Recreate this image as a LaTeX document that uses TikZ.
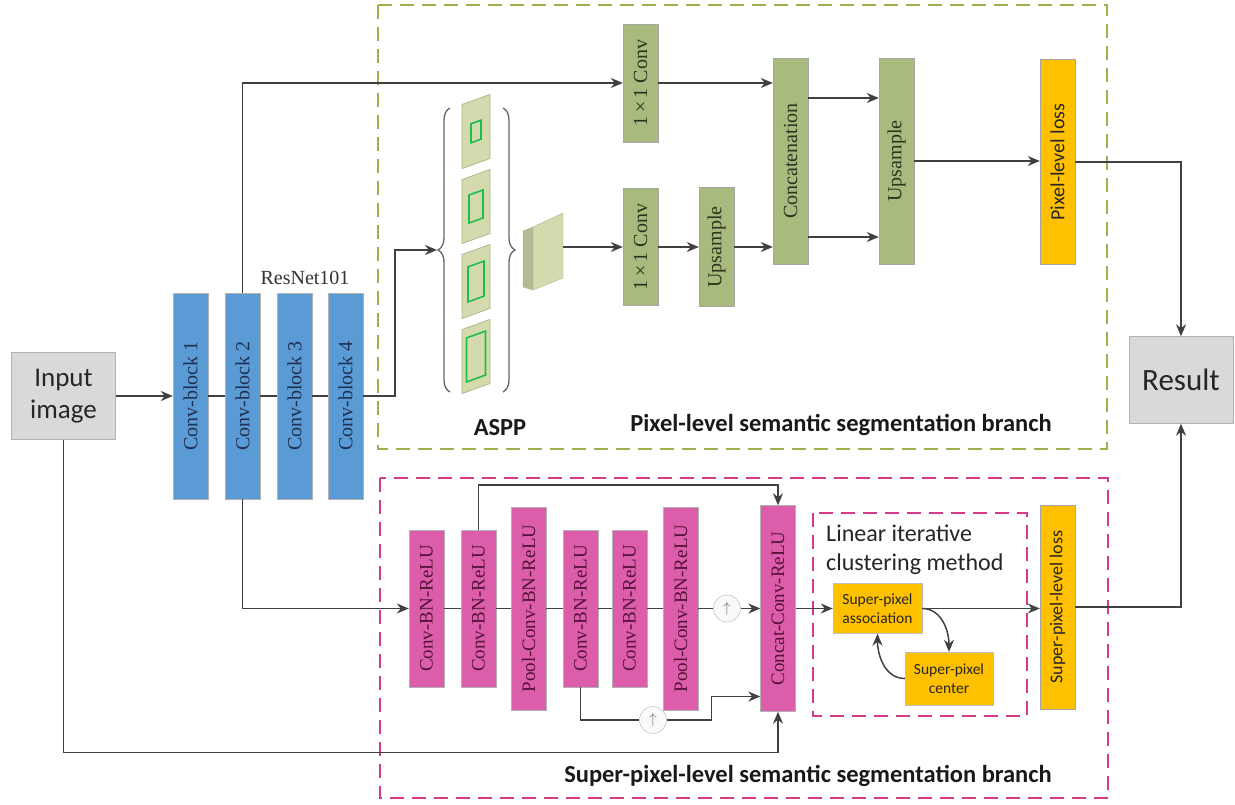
\documentclass[tikz,border=0pt]{standalone}
\usepackage{fontspec}
\setmainfont{Liberation Serif}
\newfontfamily\calib{Carlito}
\usetikzlibrary{arrows.meta,positioning,decorations.pathreplacing,calc}
\definecolor{blockblue}{HTML}{5B9BD5}
\definecolor{bluetext}{HTML}{1F3050}
\definecolor{aspgreen}{HTML}{A9BA7E}
\definecolor{greentext}{HTML}{2B341C}
\definecolor{spink}{HTML}{DC5DAA}
\definecolor{pinktext}{HTML}{561238}
\definecolor{lossorange}{HTML}{FFC000}
\definecolor{iogray}{HTML}{D9D9D9}
\definecolor{linegray}{HTML}{404040}
\definecolor{panelgreen}{HTML}{D5DAAE}
\definecolor{paneldraw}{HTML}{B2B78C}
\definecolor{ringgreen}{HTML}{1DBF4A}
\definecolor{olivedash}{HTML}{A0B04E}
\definecolor{pinkdash}{HTML}{D43B88}
\newcommand{\vt}[1]{\rotatebox{90}{#1}}

\begin{document}
\begin{tikzpicture}[x=1pt, y=-1pt,
    every node/.style={inner sep=0pt},
    convblk/.style={rectangle, draw=gray!60, fill=blockblue, minimum width=35pt, minimum height=206pt, text=bluetext, font=\fontsize{20}{20}\selectfont},
    aspblk/.style={rectangle, draw=gray!70, fill=aspgreen, minimum width=35pt, text=greentext, font=\fontsize{20}{20}\selectfont},
    spblk/.style={rectangle, draw=gray!60, fill=spink, minimum width=35pt, text=pinktext, font=\fontsize{19}{19}\selectfont},
    lossblk/.style={rectangle, draw=gray!70, fill=lossorange, minimum width=35pt, text=black!85, font=\calib\fontsize{20}{20}\selectfont},
    spbox/.style={rectangle, draw=gray!50, fill=lossorange, align=center, text=black!85, font=\calib\fontsize{15.5}{19}\selectfont},
    iobox/.style={rectangle, draw=gray!60, fill=iogray, minimum width=104pt, minimum height=87pt, align=center, text=black!85, font=\calib\fontsize{27}{32}\selectfont},
    upcirc/.style={circle, draw=gray!60, fill=gray!5, minimum size=27pt, text=gray!80!black, font=\fontsize{15}{15}\selectfont},
    arrow/.style={-{Stealth[length=12pt,width=10pt]}, line width=1.5pt, draw=linegray},
    link/.style={line width=1.5pt, draw=linegray},
    branchbox/.style={line width=2pt, dash pattern=on 14pt off 8pt},
    title/.style={text=black!90, font=\calib\bfseries\fontsize{24.5}{24.5}\selectfont}
]
\useasboundingbox (0,0) rectangle (1235,805);
\fill[white] (0,0) rectangle (1235,805);

% backbone
\node[iobox] (input) at (63.5,396) {Input\\image};
\node[convblk] (cb1) at (190.5,396) {\vt{Conv-block 1}};
\node[convblk] (cb2) at (242.5,396) {\vt{Conv-block 2}};
\node[convblk] (cb3) at (294.5,396) {\vt{Conv-block 3}};
\node[convblk] (cb4) at (345.5,396) {\vt{Conv-block 4}};
\node[text=black!80, font=\fontsize{20}{20}\selectfont] (resnet) at (305,278) {ResNet101};

% pixel-level branch
\draw[branchbox, draw=olivedash] (378,5) rectangle (1107,449);
\foreach \k/\w/\h in {0/10/19,1/14/28,2/16/35,3/19/44}{
  \begin{scope}[shift={(476,131.5+75*\k)}, yslant=0.36]
    \draw[fill=panelgreen, draw=paneldraw, line width=0.8pt] (-14,-32) rectangle (14,32);
    \draw[draw=ringgreen, line width=1.6pt] (-\w/2,-\h/2) rectangle (\w/2,\h/2);
  \end{scope}
}
\draw[decorate, decoration={brace, amplitude=12pt}, line width=1.3pt, draw=gray!80!black] (450,392) -- (450,108);
\draw[decorate, decoration={brace, amplitude=12pt}, line width=1.3pt, draw=gray!80!black] (503,108) -- (503,392);
\draw[fill=panelgreen!85!black, draw=paneldraw] (523,231) -- (533,227) -- (533,290) -- (523,287) -- cycle;
\draw[fill=panelgreen, draw=paneldraw] (533,227) -- (563,213) -- (563,278) -- (533,290) -- cycle;
\coordinate (asppin) at (437,250);
\coordinate (asppout) at (563,247);

\node[aspblk, minimum height=118pt] (conva) at (640.5,83) {\vt{1\,×\,1 Conv}};
\node[aspblk, minimum height=117pt] (convb) at (640.5,247) {\vt{1\,×\,1 Conv}};
\node[aspblk, minimum height=119pt] (upsa) at (716.5,247) {\vt{Upsample}};
\node[aspblk, minimum height=206pt] (concat) at (790.5,161) {\vt{Concatenation}};
\node[aspblk, minimum height=206pt] (upsb) at (896.5,161) {\vt{Upsample}};
\node[lossblk, minimum height=205pt] (ploss) at (1057.5,162) {\vt{Pixel-level loss}};
\node[iobox, font=\calib\fontsize{31}{32}\selectfont] (result) at (1181,380) {Result};
\node[title] (aspplbl) at (500,428) {ASPP};
\node[title] (pixlbl) at (841,425) {Pixel-level semantic segmentation branch};

% super-pixel branch
\draw[branchbox, draw=pinkdash] (380,478) rectangle (1108,798);
\node[spblk, minimum height=157pt] (cbr1) at (426.5,608.5) {\vt{Conv-BN-ReLU}};
\node[spblk, minimum height=157pt] (cbr2) at (478.5,608.5) {\vt{Conv-BN-ReLU}};
\node[spblk, minimum height=203pt] (pcbr1) at (528.5,608.5) {\vt{Pool-Conv-BN-ReLU}};
\node[spblk, minimum height=157pt] (cbr3) at (580.5,608.5) {\vt{Conv-BN-ReLU}};
\node[spblk, minimum height=157pt] (cbr4) at (629.5,608.5) {\vt{Conv-BN-ReLU}};
\node[spblk, minimum height=203pt] (pcbr2) at (680.5,608.5) {\vt{Pool-Conv-BN-ReLU}};
\node[spblk, minimum height=206pt] (ccr) at (778,608.5) {\vt{Concat-Conv-ReLU}};
\node[upcirc] (up1) at (727,608.5) {$\uparrow$};
\node[upcirc] (up2) at (653,720) {$\uparrow$};
\draw[branchbox, line width=1.8pt, draw=pinkdash] (813,513) rectangle (1027,716);
\node[anchor=north west, align=left, text=black!85, font=\calib\fontsize{24}{29}\selectfont] (slic) at (826,525) {Linear iterative\\clustering method};
\node[spbox, minimum width=89pt, minimum height=50pt] (assoc) at (877.5,608.5) {Super-pixel\\association};
\node[spbox, minimum width=88pt, minimum height=53pt] (spcenter) at (949,678.5) {Super-pixel\\center};
\node[lossblk, minimum height=204pt, font=\calib\fontsize{18}{18}\selectfont] (sploss) at (1057.5,607) {\vt{Super-pixel-level loss}};
\node[title] (splbl) at (808,776) {Super-pixel-level semantic segmentation branch};

% connections
\draw[arrow] (input.east) -- (cb1.west);
\draw[link] (cb1.east) -- (cb2.west) (cb2.east) -- (cb3.west) (cb3.east) -- (cb4.west);
\draw[arrow] (cb4.east) -- ++(32,0) |- (asppin);
\draw[arrow] (cb2.north) |- (conva.west);
\draw[arrow] (asppout) -- (convb.west);
\draw[arrow] (convb.east) -- (upsa.west);
\draw[arrow] (upsa.east) -- (upsa.east -| concat.west);
\draw[arrow] (conva.east) -- (conva.east -| concat.west);
\draw[arrow] ([yshift=63pt]concat.east) -- ([yshift=63pt]upsb.west);
\draw[arrow] ([yshift=-76pt]concat.east) -- ([yshift=-76pt]upsb.west);
\draw[arrow] (upsb.east) -- (upsb.east -| ploss.west);
\draw[arrow] (ploss.east) -| (result.north);

\draw[arrow] (cb2.south) |- (cbr1.west);
\draw[link] (cbr1.east) -- (cbr2.west) (cbr2.east) -- (pcbr1.west) (pcbr1.east) -- (cbr3.west)
  (cbr3.east) -- (cbr4.west) (cbr4.east) -- (pcbr2.west) (pcbr2.east) -- (up1.west);
\draw[arrow] (up1.east) -- (ccr.west);
\draw[arrow] (cbr2.north) -- ++(0,-45) -| (ccr.north);
\draw[link] (cbr3.south) |- (up2.west);
\draw[arrow] (up2.east) -- ++(45,0) |- ([yshift=-88pt]ccr.west);
\draw[arrow] (input.south) -- ++(0,313) -| (ccr.south);
\draw[arrow] (ccr.east) -- (assoc.west);
\draw[arrow] (assoc.east) -- (assoc.east -| sploss.west);
\draw[arrow] (assoc.east) to[out=0, in=90] (spcenter.north);
\draw[arrow] (spcenter.west) to[out=180, in=-90] (assoc.south);
\draw[arrow] (sploss.east) -| (result.south);
\end{tikzpicture}
\end{document}
